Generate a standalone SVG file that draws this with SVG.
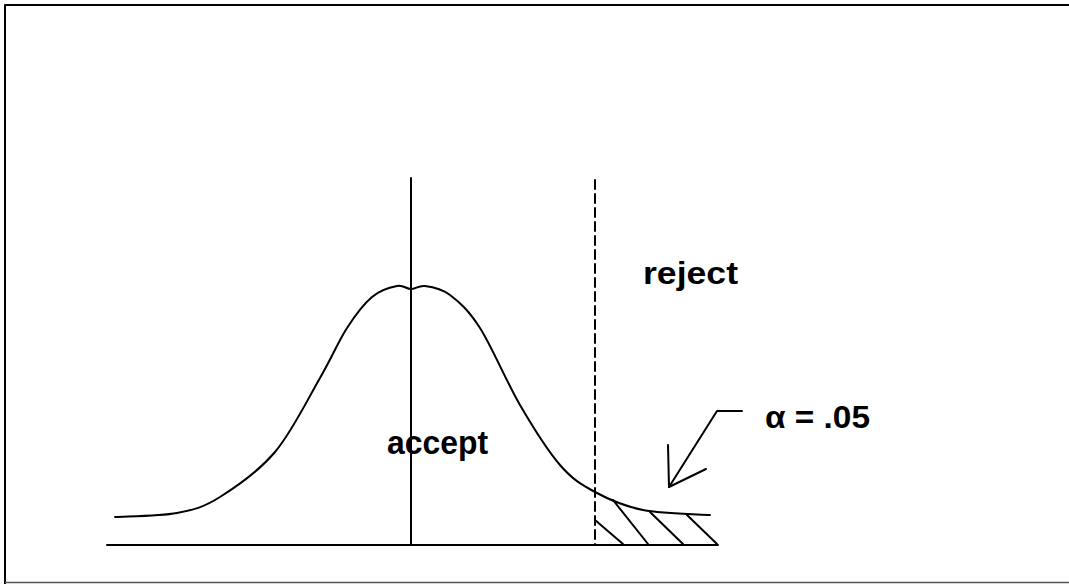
<svg xmlns="http://www.w3.org/2000/svg" width="1069" height="584" viewBox="0 0 1069 584">
<style>
.ln{fill:none;stroke:#000;stroke-width:2;stroke-linecap:round;stroke-linejoin:round}
.txt{font-family:"Liberation Sans",Arial,sans-serif;font-weight:bold;fill:#000}
</style>
<rect width="1069" height="584" fill="#fff"/>
<g id="frame">
<path d="M1069,5 H5 V584" class="ln" stroke-width="2.2"/>
<path d="M5,582.5 H1069" fill="none" stroke="#555" stroke-width="1.5"/>
</g>
<g id="axes">
<line x1="107" y1="545" x2="718" y2="545" class="ln" stroke-width="2.5"/>
<line x1="411" y1="178" x2="411" y2="545" class="ln"/>
<line x1="595" y1="180" x2="595" y2="545" class="ln" stroke-dasharray="9 5" stroke-linecap="butt"/>
</g>
<g id="curve">
<path class="ln" stroke-width="2.2" d="M115,517 C125.3,516.3 159.5,516.3 177,513 C194.5,509.7 203.7,507.2 220,497 C236.3,486.8 258.3,471.8 275,452 C291.7,432.2 308,398.7 320,378 C332,357.3 338.3,341.5 347,328 C355.7,314.5 363.7,304 372,297 C380.3,290 390.5,287.2 397,286 C403.5,284.8 406.3,289 411,289 C415.7,289 418.5,285.2 425,286 C431.5,286.8 440.8,288 450,295 C459.2,302 468.3,309.7 480,328 C491.7,346.3 506.7,382.2 520,405 C533.3,427.8 547.5,450.5 560,465 C572.5,479.5 581.2,484.5 595,492 C608.8,499.5 623.8,506.2 643,510 C662.2,513.8 698.8,514.2 710,515"/>
</g>
<g id="hatch" class="ln" stroke-width="2.5">
<line x1="595" y1="520" x2="623" y2="544"/>
<line x1="613" y1="500" x2="648" y2="544"/>
<line x1="650" y1="512" x2="683" y2="544"/>
<line x1="687" y1="515" x2="717" y2="544"/>
</g>
<g id="connectors">
<polyline class="ln" points="742,411 717,411 669,487"/>
<polyline class="ln" points="668,445 669,487 706,469"/>
</g>
<g id="labels">
<text class="txt" x="643" y="284" font-size="32" textLength="95" lengthAdjust="spacingAndGlyphs">reject</text>
<text class="txt" x="387" y="454" font-size="34" textLength="101" lengthAdjust="spacingAndGlyphs">accept</text>
<text class="txt" x="765" y="428" font-size="32" textLength="105" lengthAdjust="spacingAndGlyphs">α = .05</text>
</g>
</svg>
